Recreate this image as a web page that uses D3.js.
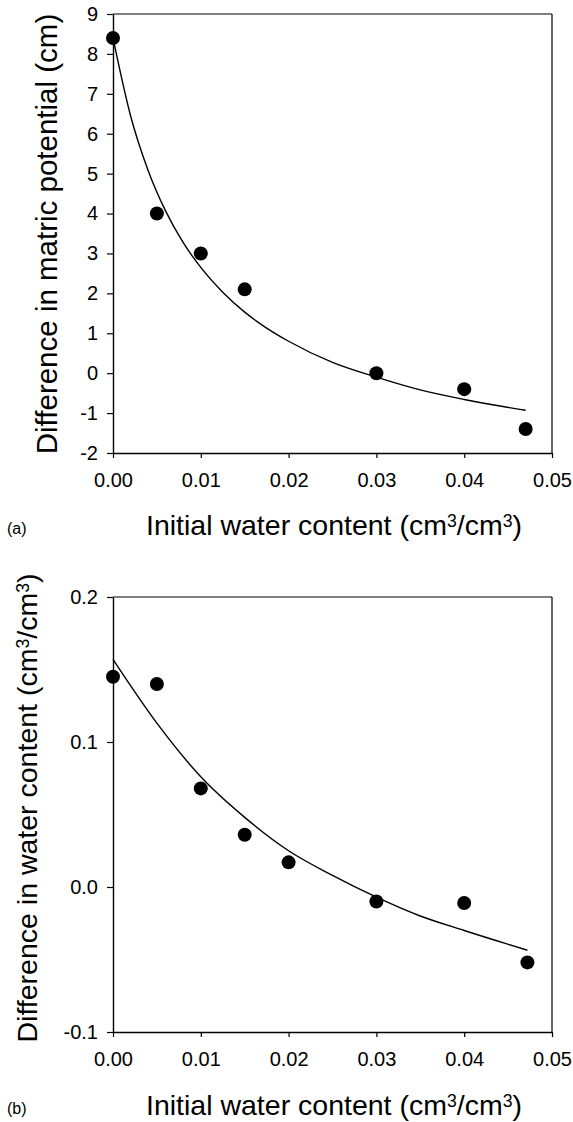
<!DOCTYPE html>
<html>
<head>
<meta charset="utf-8">
<script src="https://cdn.jsdelivr.net/npm/d3@7"></script>
<style>
  html, body { margin: 0; padding: 0; background: #fff; }
  svg { display: block; }
  text { font-family: "Liberation Sans", Arial, sans-serif; fill: #000; }
</style>
</head>
<body>
<svg id="chart" width="573" height="1122"></svg>
<script>
// ---- Panel (a) data ----
const aPointsX = [0, 0.005, 0.01, 0.015, 0.03, 0.04, 0.047];
const aPointsY = [8.4, 4.0, 3.0, 2.1, 0.0, -0.4, -1.4];
const aCurveX = [0, 0.002, 0.004, 0.006, 0.008, 0.01, 0.0125, 0.015, 0.0175, 0.02, 0.025, 0.03, 0.035, 0.04, 0.047];
const aCurveY = [8.4, 6.45, 5.08, 4.06, 3.27, 2.65, 2.03, 1.53, 1.13, 0.80, 0.27, -0.10, -0.42, -0.66, -0.93];
const aYTicks = [-2, -1, 0, 1, 2, 3, 4, 5, 6, 7, 8, 9];

// ---- Panel (b) data ----
const bPointsX = [0, 0.005, 0.01, 0.015, 0.02, 0.03, 0.04, 0.0472];
const bPointsY = [0.145, 0.140, 0.068, 0.036, 0.017, -0.010, -0.011, -0.052];
const bCurveX = [0, 0.005, 0.01, 0.015, 0.02, 0.025, 0.03, 0.035, 0.04, 0.0472];
const bCurveY = [0.157, 0.113, 0.076, 0.048, 0.025, 0.008, -0.007, -0.020, -0.030, -0.0436];
const bYTicks = [-0.1, 0.0, 0.1, 0.2];

const xTicks = [0, 0.01, 0.02, 0.03, 0.04, 0.05];

const svg = d3.select("#chart");
const hyphen = f => d => f(d).replace("\u2212", "-");

function supText(t, before, mid, after) {
  t.append("tspan").text(before);
  t.append("tspan").attr("font-size", "0.62em").attr("dy", "-0.45em").text("3");
  t.append("tspan").attr("dy", "0.28em").text(mid);
  t.append("tspan").attr("font-size", "0.62em").attr("dy", "-0.45em").text("3");
  t.append("tspan").attr("dy", "0.28em").text(after);
}

function panel(cfg) {
  const g = svg.append("g");
  const x = d3.scaleLinear().domain([0, 0.05]).range([cfg.left, cfg.right]);
  const y = d3.scaleLinear().domain(cfg.yDomain).range([cfg.bottom, cfg.top]);

  // frame (top and right)
  g.append("line").attr("x1", cfg.left).attr("x2", cfg.right).attr("y1", cfg.top).attr("y2", cfg.top)
    .attr("stroke", "#000").attr("stroke-width", 1.2);
  g.append("line").attr("x1", cfg.right).attr("x2", cfg.right).attr("y1", cfg.top).attr("y2", cfg.bottom)
    .attr("stroke", "#000").attr("stroke-width", 1.2);

  const xAxis = g.append("g").attr("transform", `translate(0,${cfg.bottom})`)
    .call(d3.axisBottom(x).tickValues(xTicks).tickFormat(d3.format(".2f")).tickSize(5).tickPadding(15).tickSizeOuter(0));
  const yAxis = g.append("g").attr("transform", `translate(${cfg.left},0)`)
    .call(d3.axisLeft(y).tickValues(cfg.yTicks).tickFormat(hyphen(cfg.yFormat)).tickSize(6).tickPadding(9).tickSizeOuter(0));
  [xAxis, yAxis].forEach(a => {
    a.select(".domain").attr("stroke", "#000").attr("stroke-width", 1.4);
    a.selectAll(".tick line").attr("stroke", "#000").attr("stroke-width", 1.2);
    a.selectAll(".tick text").attr("font-family", "Liberation Sans, Arial, sans-serif")
      .attr("font-size", 20).attr("fill", "#000");
  });

  // curve
  const pts = cfg.curveX.map((d, i) => [d, cfg.curveY[i]]);
  g.append("path").datum(pts)
    .attr("fill", "none").attr("stroke", "#000").attr("stroke-width", 1.4)
    .attr("d", d3.line().x(d => x(d[0])).y(d => y(d[1])).curve(d3.curveMonotoneX));

  // points
  g.selectAll("circle.pt").data(cfg.pointsX.map((d, i) => [d, cfg.pointsY[i]])).enter()
    .append("circle").attr("class", "pt")
    .attr("cx", d => x(d[0])).attr("cy", d => y(d[1])).attr("r", 7).attr("fill", "#000");

  // x title
  const xt = g.append("text").attr("x", cfg.xTitleX).attr("y", cfg.xTitleY)
    .attr("text-anchor", "middle").attr("font-size", 28.5);
  supText(xt, "Initial water content (cm", "/cm", ")");

  // panel label
  g.append("text").attr("x", 7).attr("y", cfg.xTitleY - 1)
    .attr("font-family", "DejaVu Sans Condensed, DejaVu Sans, sans-serif").attr("font-size", 16).text(cfg.label);

  // y title
  const yt = g.append("text")
    .attr("transform", `translate(${cfg.yTitleX},${cfg.yTitleY}) rotate(-90)`)
    .attr("text-anchor", "middle").attr("font-size", cfg.yTitleSize);
  cfg.yTitle(yt);
}

panel({
  left: 113, right: 552, top: 14, bottom: 453,
  yDomain: [-2, 9], yTicks: aYTicks, yFormat: d3.format("d"),
  curveX: aCurveX, curveY: aCurveY, pointsX: aPointsX, pointsY: aPointsY,
  xTitleX: 334, xTitleY: 535, label: "(a)",
  yTitleX: 57, yTitleY: 234, yTitleSize: 29.5,
  yTitle: t => t.text("Difference in matric potential (cm)")
});

panel({
  left: 113, right: 552, top: 597, bottom: 1032,
  yDomain: [-0.1, 0.2], yTicks: bYTicks, yFormat: d3.format(".1f"),
  curveX: bCurveX, curveY: bCurveY, pointsX: bPointsX, pointsY: bPointsY,
  xTitleX: 334, xTitleY: 1115, label: "(b)",
  yTitleX: 37, yTitleY: 808, yTitleSize: 28.5,
  yTitle: t => supText(t, "Difference in water content (cm", "/cm", ")")
});
</script>
</body>
</html>
